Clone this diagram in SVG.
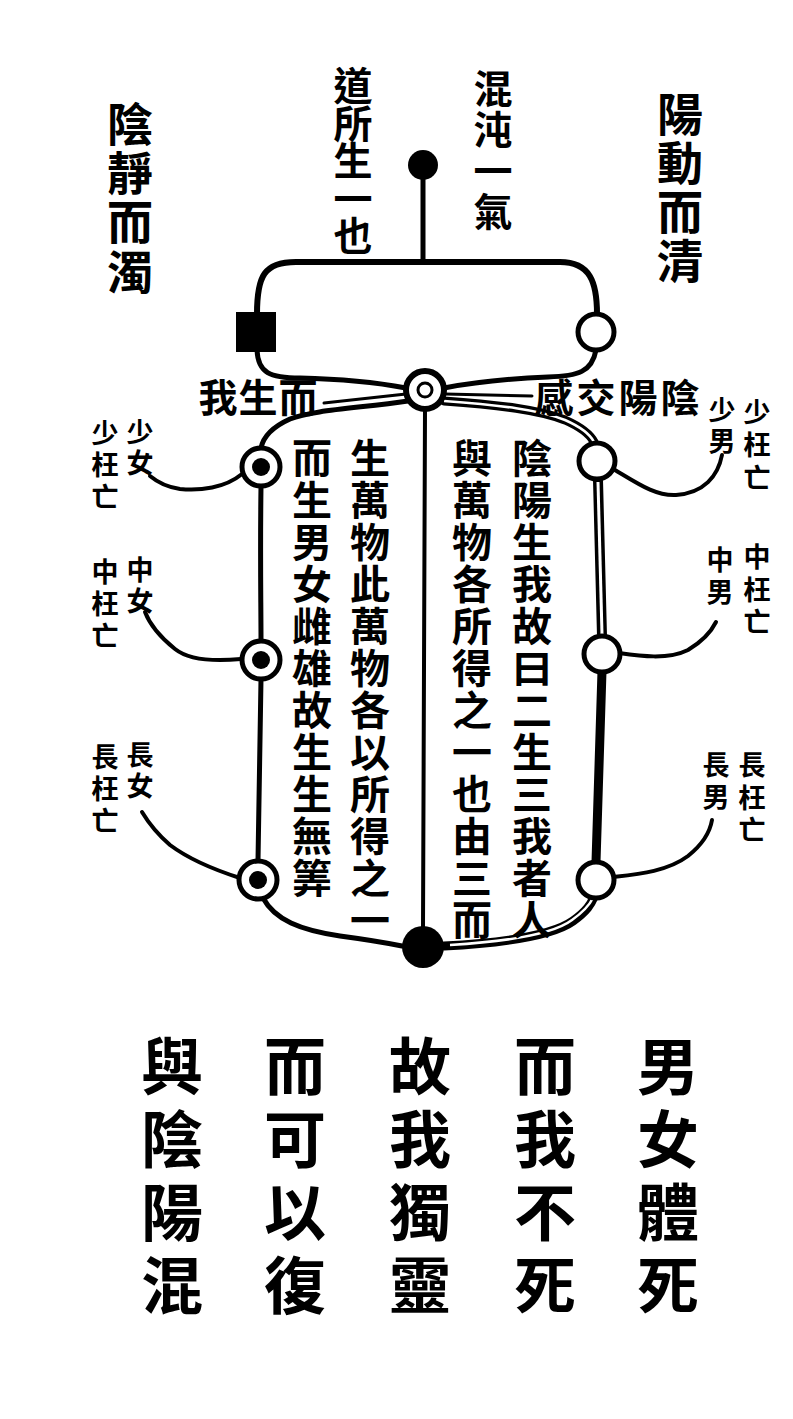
<svg xmlns="http://www.w3.org/2000/svg" width="793" height="1419" viewBox="0 0 793 1419">
<style>
text{font-family:"Noto Sans CJK TC","Noto Sans CJK SC",sans-serif;font-weight:700;fill:#000;text-anchor:middle}
.big{font-size:46px}
.mid{font-size:39px}
.lab{font-size:27px}
.inner{font-size:40px}
.bot{font-size:62px;font-weight:700}
.ln{fill:none;stroke:#000;stroke-linecap:round;stroke-linejoin:round}
</style>
<rect width="793" height="1419" fill="#fff"/>

<g id="connectors">
  <line class="ln" x1="423" y1="165" x2="423" y2="262" stroke-width="5"/>
  <path class="ln" stroke-width="6" d="M257,314 C257,276 264,262 296,262 L560,262 C590,262 597,282 597,314"/>
  <path class="ln" stroke-width="5" d="M257,350 C258,373 270,378 300,378 C345,379 385,384 406,388"/>
  <path class="ln" stroke-width="5" d="M596,350 C592,372 578,376 548,377 C500,379 465,384 444,388"/>
  <path class="ln" stroke-width="3" d="M406,394 L324,403"/>
  <path class="ln" stroke-width="3" d="M445,394 L532,396"/>
  <path class="ln" stroke-width="5" d="M408,401 C360,408 312,410 290,419 C270,428 263,438 261,448"/>
  <path class="ln" stroke-width="9" d="M444,401 C500,405 540,410 565,420 C583,428 591,436 594,442"/>
  <path fill="none" stroke="#fff" stroke-width="2.5" d="M444,401 C500,405 540,410 565,420 C583,428 591,436 594,442"/>
  <path class="ln" stroke-width="5" d="M261,486 C260,560 261,600 261,642"/>
  <path class="ln" stroke-width="5" d="M261,679 C260,760 259,820 258,861"/>
  <path class="ln" stroke-width="10" d="M598,480 L602,636"/>
  <path fill="none" stroke="#fff" stroke-width="3" d="M598,482 L602,634"/>
  <path class="ln" stroke-width="9" d="M602,671 L596,862"/>
  <path class="ln" stroke-width="5" d="M263,898 C275,920 300,930 340,936 C370,940 392,944 402,946"/>
  <path class="ln" stroke-width="9" d="M444,946 C500,943 552,936 573,921 C587,911 591,904 594,897"/>
  <path fill="none" stroke="#fff" stroke-width="2.5" d="M450,945 C500,942 552,935 572,920 C586,910 590,904 593,898"/>
  <line class="ln" x1="425" y1="409" x2="423" y2="928" stroke-width="4"/>
  <path class="ln" stroke-width="4" d="M242,474 C225,488 200,491 180,489 C166,487 156,481 150,476"/>
  <path class="ln" stroke-width="4" d="M241,659 C220,661 190,661 175,649 C160,637 150,625 145,612"/>
  <path class="ln" stroke-width="4" d="M240,878 C215,870 190,860 170,845 C155,832 148,822 142,812"/>
  <path class="ln" stroke-width="4" d="M615,470 C640,485 656,496 676,495 C704,493 718,476 722,455"/>
  <path class="ln" stroke-width="4" d="M619,653 C640,656 668,660 688,650 C703,641 711,632 716,622"/>
  <path class="ln" stroke-width="4" d="M614,877 C640,874 668,871 688,856 C703,844 710,832 712,820"/>
</g>

<g id="node-top"><circle cx="423" cy="165" r="15" fill="#000"/></g>
<g id="node-yin"><rect x="236" y="312" width="40" height="40" fill="#000"/></g>
<g id="node-yang"><circle cx="596" cy="332" r="18" fill="#fff" stroke="#000" stroke-width="5"/></g>
<g id="node-center"><circle cx="425" cy="390" r="19" fill="#fff" stroke="#000" stroke-width="6"/><circle cx="425" cy="390" r="7" fill="none" stroke="#000" stroke-width="3"/></g>
<g id="node-L1"><circle cx="261" cy="467" r="19" fill="#fff" stroke="#000" stroke-width="5"/><circle cx="261" cy="467" r="9" fill="#000"/></g>
<g id="node-L2"><circle cx="261" cy="660" r="19" fill="#fff" stroke="#000" stroke-width="5"/><circle cx="261" cy="660" r="9" fill="#000"/></g>
<g id="node-L3"><circle cx="258" cy="880" r="19" fill="#fff" stroke="#000" stroke-width="5"/><circle cx="258" cy="880" r="9" fill="#000"/></g>
<g id="node-R1"><circle cx="597" cy="461" r="18" fill="#fff" stroke="#000" stroke-width="5"/></g>
<g id="node-R2"><circle cx="602" cy="654" r="18" fill="#fff" stroke="#000" stroke-width="5"/></g>
<g id="node-R3"><circle cx="596" cy="880" r="18" fill="#fff" stroke="#000" stroke-width="5"/></g>
<g id="node-bottom"><circle cx="423" cy="947" r="21" fill="#000"/></g>

<g id="labels-top">
  <text class="big" x="130 130 130 130" y="141 190 239 289">陰靜而濁</text>
  <text class="mid" font-size="38" x="353 353 353 353 353" y="100 138 175 213 250">道所生一也</text>
  <text class="mid" x="493 493 493 493" y="103 144 185 226">混沌一氣</text>
  <text class="big" x="680 680 680 680" y="131 180 229 278">陽動而清</text>
  <text class="mid" x="218 258 298" y="412 412 412">我生而</text>
  <text class="mid" x="554 596 638 680" y="412 412 412 412">感交陽陰</text>
</g>

<g id="labels-side">
  <text class="lab" x="140 140" y="442 473">少女</text>
  <text class="lab" x="105 105 105" y="443 475 507">少枉亡</text>
  <text class="lab" x="140 140" y="580 611">中女</text>
  <text class="lab" x="105 105 105" y="582 614 646">中枉亡</text>
  <text class="lab" x="140 140" y="765 796">長女</text>
  <text class="lab" x="105 105 105" y="767 799 831">長枉亡</text>
  <text class="lab" x="722 722" y="420 451">少男</text>
  <text class="lab" x="757 757 757" y="422 455 488">少枉亡</text>
  <text class="lab" x="720 720" y="570 602">中男</text>
  <text class="lab" x="757 757 757" y="567 600 632">中枉亡</text>
  <text class="lab" x="716 716" y="775 807">長男</text>
  <text class="lab" x="752 752 752" y="775 808 840">長枉亡</text>
</g>

<g id="text-inner">
  <text class="inner" x="532 532 532 532 532 532 532 532 532 532 532 532" y="473 515 557 599 641 683 725 767 809 851 893 935">陰陽生我故曰二生三我者人</text>
  <text class="inner" x="472 472 472 472 472 472 472 472 472 472 472 472" y="473 515 557 599 641 683 725 767 809 851 893 935">與萬物各所得之一也由三而</text>
  <text class="inner" x="370 370 370 370 370 370 370 370 370 370 370 370" y="473 515 557 599 641 683 725 767 809 851 893 935">生萬物此萬物各以所得之一</text>
  <text class="inner" x="312 312 312 312 312 312 312 312 312 312 312" y="473 515 557 599 641 683 725 767 809 851 893">而生男女雌雄故生生無筭</text>
</g>

<g id="text-bottom">
  <text class="bot" x="668 668 668 668" y="1090 1163 1236 1309">男女體死</text>
  <text class="bot" x="545 545 545 545" y="1090 1163 1236 1309">而我不死</text>
  <text class="bot" x="420 420 420 420" y="1090 1163 1236 1309">故我獨靈</text>
  <text class="bot" x="295 295 295 295" y="1090 1163 1236 1309">而可以復</text>
  <text class="bot" x="172 172 172 172" y="1090 1163 1236 1309">與陰陽混</text>
</g>
</svg>
